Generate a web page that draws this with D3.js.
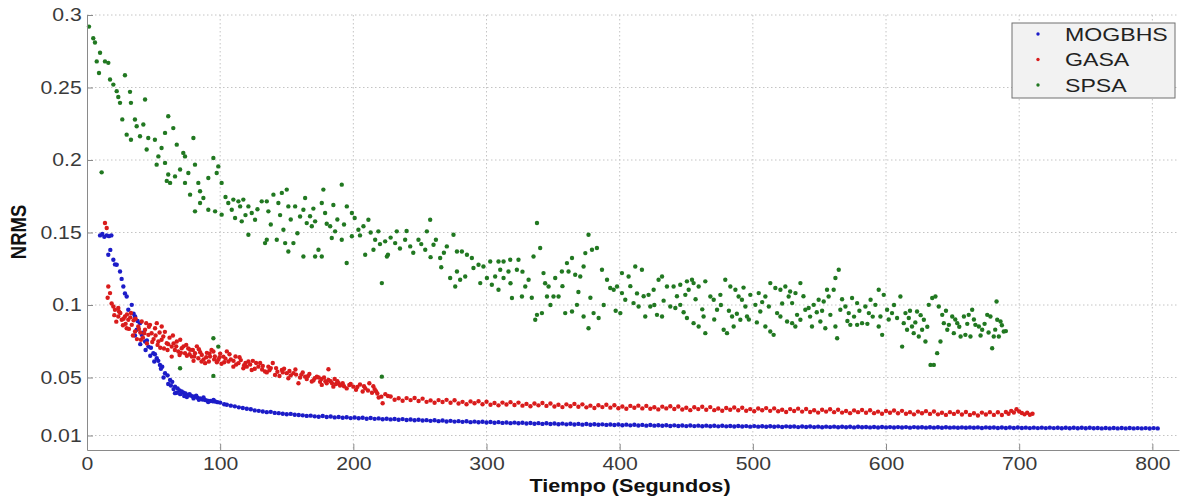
<!DOCTYPE html>
<html>
<head>
<meta charset="utf-8">
<script src="https://cdn.jsdelivr.net/npm/d3@7/dist/d3.min.js"></script>
<style>
  html, body { margin: 0; padding: 0; background: #fff; }
  svg { display: block; }
  text { font-family: "Liberation Sans", Arial, Helvetica, sans-serif; }
</style>
</head>
<body>
<svg id="chart" width="1182" height="498"></svg>
<script>
// Axis ticks
const timeTicks = [0, 100, 200, 300, 400, 500, 600, 700, 800];
const nrmsTicks = [0.01, 0.05, 0.1, 0.15, 0.2, 0.25, 0.3];
const nrmsTickLabels = ["0.01", "0.05", "0.1", "0.15", "0.2", "0.25", "0.3"];

const seriesNames = ["MOGBHS", "GASA", "SPSA"];
const seriesColors = ["#1c1cc8", "#d91c1c", "#217821"];

// MOGBHS: [tiempo (s), NRMS]
const mogbhs = [
  [9.8,.148],[11.5,.149],[13,.147],[14.8,.148],[16.5,.1475],[18.3,.148],[16,.1347],[17.5,.138],[19.8,.1312],[21,.128],
  [22.3,.1278],[24.8,.1231],[26,.118],[27.3,.1128],[28.5,.108],[29.8,.1059],[31,.0967],[33.6,.1001],[35,.094],[36.1,.0921],
  [38,.089],[39.8,.0875],[37.3,.0829],[41.1,.0794],[42.5,.081],[43.6,.0748],[45,.0755],[46.1,.0713],[48,.0705],[49.8,.0668],
  [51,.066],[52.4,.0633],[53.5,.0615],[54.8,.0587],[56.5,.0575],[58.6,.053],[60.5,.0515],[62.4,.0483],[64,.047],[66.1,.0437],
  [66.1,.0392],[68,.0425],[69.5,.041],[71.1,.0403],[72.5,.0395],[74,.039],[76.1,.038],[78,.0375],[79.5,.037],[81.1,.0368],
  [83,.036],[85,.0355],[86.7,.0348],[88.7,.0345],[90.5,.034],[92.5,.0338],[94.5,.0336],[96.2,.0334],[98,.033],
  [36,.079],[40,.073],[44,.069],[47.5,.065],[50.5,.061],[55.5,.056],[57.5,.05],[61,.0455],[63,.0445],[65,.042],
  [67.5,.0395],[70,.0385],[73,.0372],[75,.0365],[77,.0385],[80,.0356],[82,.0374],[84,.0346],[87.5,.0362],[91,.0331],[95,.0346],
  [100,.0327],[103,.0316],[105,.0312],[108,.0306],[111,.0301],[114,.0294],[117,.029],[120,.0284],[123,.0281],[126,.0273],
  [129,.027],[132,.0266],[135,.0261],[138,.0263],[141,.0256],[144,.0254],[147,.025],[150,.0247],[153,.0249],[156,.0243],
  [159,.0241],[162,.0239],[165,.0235],[168,.0237],[171,.0232],[174,.0229],[177,.0234],[180,.0228],[183,.0231],[186,.0225],
  [189,.0228],[192,.0222],[195,.0226],[198,.022],[201,.0224],[204,.0219],[207,.0222],[210,.0216],[213,.0221],[216,.0215],
  [219,.0218],[222,.0212],[225,.0216],[228,.0211],[231,.0214],[234,.0209],[237,.0213],[240,.0207],[243,.021],[246,.0205],
  [249,.0209],[252,.0203],[255,.0206],[258,.0201],[261,.0205],[264,.0199],[267,.0203],[270,.0197],[273,.0201],[276,.0196],
  [279,.0199],[282,.0194],[285,.0198],[288,.0192],[291,.0196],[294,.0191],[297,.0195],[300,.019],[303,.0193],[306,.0188],
  [309,.0192],[312,.0187],[315,.019],[318,.0185],[321,.0189],[324,.0184],[327,.0188],[330,.0183],[333,.0186],[336,.0181],
  [339,.0185],[342,.018],[345,.0184],[348,.0179],[351,.0183],[354,.0178],[357,.0182],[360,.0177],[363,.0181],[366,.0176],
  [369,.018],[372,.0175],[375,.0179],[378,.0174],[381,.0178],[384,.0174],[387,.0177],[390,.0173],[393,.0176],[396,.0172],
  [399,.0176],[402,.0171],[405,.0175],[408,.017],[411,.0174],[414,.0169],[417,.0173],[420,.0168],[423,.0172],[426,.0168],
  [429,.0171],[432,.0167],[435,.0171],[438,.0166],[441,.017],[444,.0166],[447,.0169],[450,.0165],[453,.0169],[456,.0165],
  [459,.0168],[462,.0164],[465,.0168],[468,.0164],[471,.0167],[474,.0163],[477,.0167],[480,.0163],[483,.0166],[486,.0162],
  [489,.0166],[492,.0162],[495,.0165],[498,.0161],[501,.0165],[504,.0161],[507,.0164],[510,.016],[513,.0164],[516,.016],
  [519,.0163],[522,.0159],[525,.0163],[528,.016],[531,.0162],[534,.0158],[537,.0162],[540,.0159],[543,.0162],[546,.0158],
  [549,.0161],[552,.0157],[555,.0161],[558,.0158],[561,.0161],[564,.0157],[567,.016],[570,.0157],[573,.016],[576,.0156],
  [579,.016],[582,.0157],[585,.0159],[588,.0156],[591,.0159],[594,.0155],[597,.0159],[600,.0156],[603,.0158],[606,.0155],
  [609,.0158],[612,.0155],[615,.0158],[618,.0154],[621,.0158],[624,.0155],[627,.0157],[630,.0154],[633,.0157],[636,.0154],
  [639,.0157],[642,.0153],[645,.0157],[648,.0154],[651,.0156],[654,.0153],[657,.0156],[660,.0153],[663,.0156],[666,.0153],
  [669,.0156],[672,.0152],[675,.0156],[678,.0153],[681,.0155],[684,.0152],[687,.0155],[690,.0152],[693,.0155],[696,.0152],
  [699,.0155],[702,.0152],[705,.0154],[708,.0151],[711,.0154],[714,.0151],[717,.0154],[720,.0151],[723,.0154],[726,.0151],
  [729,.0153],[732,.015],[735,.0153],[738,.015],[741,.0153],[744,.015],[747,.0153],[750,.015],[753,.0153],[756,.015],
  [759,.0152],[762,.0149],[765,.0152],[768,.0149],[771,.0152],[774,.0149],[777,.0152],[780,.0149],[783,.0152],[786,.0149],
  [789,.0151],[792,.0149],[795,.0151],[798,.0148],[801,.0151],[804,.0149]
];

// GASA: [tiempo (s), NRMS]
const gasa = [
  [13.5,.1566],[14.8,.1531],[16,.1128],[17.3,.1082],[19.8,.099],[21,.0967],[23.5,.0979],[23.5,.0921],[26.1,.0898],[28.5,.0921],
  [31,.0898],[29.8,.084],[33.6,.0863],[36.1,.0817],[38.5,.0852],[41.1,.0886],[43.6,.0829],[46.1,.0794],[47.3,.0863],[51.1,.084],
  [52.4,.0875],[56.1,.0852],[57.3,.0783],[53.6,.0748],[59.9,.0737],[63.6,.0713],[67.4,.0748],[68.6,.0679],[63.6,.0644],[71.1,.0702],
  [73.6,.0668],[77.4,.0691],[78.7,.0644],[81.1,.0668],[83.6,.0633],[86.2,.0656],[88.7,.0599],[92.4,.0644],[94.9,.0679],[98.6,.0622],
  [102.4,.0644],[106.2,.061],[109.9,.0575],[113.7,.0599],[117.4,.0564],[121.2,.061],[123.7,.0552],[128.7,.0575],[133.7,.0541],[136.2,.0575],
  [141.2,.0518],[146.3,.0552],[151.2,.0495],[155,.053],[158.8,.046],[163.8,.0506],[168.8,.0472],[172.6,.0506],[176.3,.0449],[181.3,.0483],
  [185,.0437],[181.3,.0557],
  [15.5,.105],[18.5,.101],[20.5,.093],[22,.0885],[25,.0945],[27,.086],[30,.0935],[32.5,.0915],[34.5,.079],[35,.0895],
  [37.5,.0765],[40,.081],[42,.0775],[44.5,.0875],[45,.0735],[48.5,.0805],[50,.0765],[54.5,.081],[55,.0705],[58.5,.0815],
  [60.5,.069],[62,.0775],[65,.0735],[66,.069],[69.5,.0655],[70,.076],[72.5,.0715],[75,.065],[76,.07],[79.5,.069],
  [80,.0615],[82.5,.0715],[85,.0675],[87.5,.0625],[90,.067],[91.5,.061],[93.5,.069],[96,.0645],[97.5,.0605],[100,.0665],
  [101,.0595],[104,.063],[105,.068],[108,.0625],[111.5,.0645],[112,.059],[115.5,.062],[119,.06],[120,.0575],[124.5,.0615],
  [126,.056],[130,.06],[131.5,.0555],[135,.0535],[138,.0565],[139.5,.06],[143,.054],[144.5,.051],[148,.056],[150,.053],
  [153,.0515],[156.5,.0555],[160,.05],[162,.0535],[165,.049],[167,.0525],[170,.048],[174,.05],[175,.047],[178,.05],
  [180,.046],[183,.0475],[187,.0455],[188,.0475],
  [24,.0955],[27.5,.0905],[29,.087],[31.5,.0835],[33,.0945],[36.5,.0905],[39,.0835],[40.5,.076],[43,.0805],[46.5,.085],
  [49,.0745],[51.5,.079],[53,.0725],[56,.076],[57.8,.07],[61,.073],[64.5,.079],[67,.0715],[70.5,.067],[74.5,.0725],
  [77,.066],[80.5,.0645],[84,.0695],[86,.061],[89.5,.064],[92,.0665],[95.5,.0625],[99.5,.064],[103,.0605],[107,.066],
  [110,.0615],[114.5,.064],[118,.0585],[122.5,.059],[127,.06],[132,.058],[137,.055],[142,.0565],[147,.0535],[152,.0545],
  [157,.052],[161,.052],[166,.051],[171,.0495],[176,.049],[179,.0475],[184,.046],[186,.049],[189,.046],[193,.044],
  [198,.0455],[203,.0435],[208,.044],[211,.041],[215,.044],[217,.0405],
  [190,.0445],[192,.046],[195,.0425],[197,.0448],[200,.0437],[202,.0415],[205,.0452],[207,.0403],[209,.0425],[212,.046],
  [214,.0395],[216,.042],[218,.039],[219,.0362],[221,.0368],[222,.0322],[224,.0385],[226,.0372],
  [228,.0369],[231,.0347],[234,.0357],[237,.034],[240,.0358],[243,.0344],[246,.0359],[249,.0338],[252,.0354],[255,.0332],
  [258,.0342],[261,.0326],[264,.0344],[267,.0331],[270,.0346],[273,.0326],[276,.0343],[279,.0321],[282,.0332],[285,.0316],
  [288,.0335],[291,.0322],[294,.0336],[297,.0316],[300,.0333],[303,.0312],[306,.0324],[309,.0308],[312,.0327],[315,.0314],
  [318,.033],[321,.031],[324,.0327],[327,.0306],[330,.0318],[333,.0302],[336,.0321],[339,.0308],[342,.0324],[345,.0304],
  [348,.0321],[351,.03],[354,.0312],[357,.0296],[360,.0315],[363,.0302],[366,.0318],[369,.0298],[372,.0315],[375,.0294],
  [378,.0306],[381,.029],[384,.0309],[387,.0296],[390,.0312],[393,.0292],[396,.0309],[399,.0288],[402,.03],[405,.0284],
  [408,.0304],[411,.0291],[414,.0306],[417,.0287],[420,.0304],[423,.0284],[426,.0295],[429,.028],[432,.0299],[435,.0287],
  [438,.0302],[441,.0283],[444,.03],[447,.0279],[450,.0291],[453,.0275],[456,.0295],[459,.0282],[462,.0298],[465,.0278],
  [468,.0296],[471,.0275],[474,.0286],[477,.0271],[480,.029],[483,.0278],[486,.0293],[489,.0274],[492,.0291],[495,.0271],
  [498,.0282],[501,.0267],[504,.0286],[507,.0274],[510,.0289],[513,.027],[516,.0287],[519,.0267],[522,.0278],[525,.0262],
  [528,.0282],[531,.0269],[534,.0285],[537,.0265],[540,.0283],[543,.0262],[546,.0274],[549,.0258],[552,.0278],[555,.0265],
  [558,.0281],[561,.0261],[564,.0278],[567,.0258],[570,.0269],[573,.0254],[576,.0273],[579,.0261],[582,.0276],[585,.0257],
  [588,.0274],[591,.0254],[594,.0265],[597,.025],[600,.0269],[603,.0257],[606,.0272],[609,.0253],[612,.027],[615,.025],
  [618,.0261],[621,.0246],[624,.0265],[627,.0253],[630,.0268],[633,.0249],[636,.0266],[639,.0246],[642,.0257],[645,.0242],
  [648,.0261],[651,.0249],[654,.0264],[657,.0245],[660,.0262],[663,.0242],[666,.0253],[669,.0238],[672,.0258],[675,.0245],
  [678,.0261],[681,.0242],[684,.026],[687,.0241],[690,.0262],[692,.025],[694,.027],[696,.0259],[698,.0281],[700,.0266],
  [702,.0255],[704,.0246],[706,.0257],[708,.0243],[710,.025]
];

// SPSA: [tiempo (s), NRMS]
const spsa = [
  [1.5,.292],[4.7,.284],[6,.281],[9.8,.274],[7.3,.268],[13.5,.268],[16,.267],[9,.26],[11,.1915],[28.5,.2585],
  [17.3,.2555],[19.8,.252],[22.3,.2475],[32.3,.247],[23.5,.2435],[24.8,.2394],[33,.2394],[43.6,.2417],[26.5,.228],[36,.2279],
  [61,.2302],[37.3,.2233],[42.3,.2245],[64.8,.222],[29.8,.2175],[33,.214],[39.8,.2164],[46,.2152],[51,.214],[58.6,.2187],
  [79.9,.2152],[44.8,.2072],[56,.2083],[67.4,.2106],[72.3,.2049],[94.9,.2014],[53.6,.2025],[52.3,.1968],[58.6,.198],[73.6,.2025],
  [81.1,.1968],[98.6,.1956],[69.9,.1934],[61,.19],[66.1,.1887],[76.1,.191],[59.9,.1856],[62.4,.1842],[73.6,.1842],[83.6,.1842],
  [91.1,.1876],[97.4,.191],[101.1,.1842],[84.9,.1785],[77.4,.1761],[87.4,.1738],[84.9,.1703],[81.1,.1646],[91.1,.1657],[96.2,.1646],
  [101.1,.1623],[106.1,.1703],[109.9,.1727],[113.7,.1715],[117.4,.1727],[108.7,.1657],[115,.168],[121.2,.168],[111.2,.16],[116.2,.1577],
  [123.7,.1634],[126.2,.1588],[121.2,.1485],[131.2,.1715],[135,.1715],[140,.1761],[146.3,.1773],[150,.1796],[143.7,.1703],[136.2,.1646],
  [151.2,.168],[156.3,.168],[162.5,.1657],[163.8,.1738],[177.5,.1796],[176.3,.1703],[191.3,.183],[195.1,.168],[198.9,.1634],[167.5,.1612],
  [171.3,.1577],[168.8,.1543],[178.8,.1634],[182.6,.1543],[186.3,.1508],[183.8,.1462],[191.3,.145],[203.8,.1519],[211.3,.1588],[207.6,.1543],
  [198.9,.1474],[216.4,.145],[218.8,.1508],[232.6,.1508],[223.9,.1439],[231.4,.1427],[238.9,.145],[242.7,.1404],[248.9,.145],[257.7,.1588],
  [255.2,.1508],[260.2,.1416],[254,.1381],[147.5,.1519],[142.5,.145],[148.8,.1427],[155,.1427],[135,.145],[133.7,.1427],[162.5,.1335],
  [173.8,.1381],[176.3,.1335],[208.9,.1347],[225.2,.1335],[215.1,.1381],[151.2,.1369],[171.3,.1335],[195,.129],[221.4,.1151],[226,.1347],
  [94.9,.0771],[98.6,.0713],[94.9,.0511],[69.9,.0564],[221.4,.0506],
  [104,.1745],[119,.162],[128,.166],[138,.1555],[145,.162],[153,.159],[158,.1495],[160,.161],[165,.1565],[170,.1665],
  [180,.156],[185,.169],[188,.159],[193,.1555],[201,.16],[205,.148],[213,.15],[220,.142],[228,.1465],[235,.139],
  [240,.151],[245,.136],[251,.142],[258,.133],[262,.145],[266,.126],[268,.136],
  [265.2,.1324],[270.2,.1404],[275.2,.1485],[277.8,.1369],[281.5,.1369],[285.3,.1347],[289,.1324],[272.7,.1186],[276.5,.1128],[280.2,.1174],
  [284,.1197],[277.8,.1231],[290.2,.1255],[294,.1278],[297.7,.1266],[302.8,.13],[309,.13],[312.8,.13],[317.8,.1312],[324,.1312],
  [322.8,.1243],[310.3,.1243],[316.5,.1231],[300.3,.1186],[306.5,.1197],[312.8,.1186],[295.3,.1151],[304,.114],[309,.1105],[319.1,.1048],
  [326.6,.1059],[331.6,.1174],[329.1,.1128],[337.9,.1566],[340.3,.1393],[335.3,.1335],[342.8,.122],[337.9,.0932],[336.6,.0898],[341.6,.0944],
  [345.4,.1059],[346.6,.1128],[351.6,.1186],[350.3,.1059],[354.1,.1059],[356.6,.1231],[360.4,.1289],[364.2,.1324],[361.6,.1231],[366.6,.1209],
  [359.1,.0944],[364.2,.0955],[367.9,.1001],[370.4,.1197],[372.9,.1266],[374.2,.1358],[376.6,.1485],[379.2,.1381],[382.9,.1393],[372.9,.0921],
  [376.6,.084],[380.4,.0944],[384.2,.091],[386.7,.1243],[390.5,.1174],[392.9,.1117],[395.5,.1105],[398,.1128],[401.7,.122],[401.7,.1082],
  [404.2,.1036],[400.5,.0944],[406.7,.1197],[411.7,.1266],[416.7,.1243],[410.4,.1013],[414.2,.099],[419.2,.0921],[423,.099],[421.7,.107],
  [425.5,.1105],[429.2,.1174],[431.8,.1197],[428,.0932],[431.8,.0921],[435.5,.1128],[440.5,.1128],[445.5,.114],[450.5,.1163],[454.3,.1174],
  [438,.099],[441.8,.0979],[445.5,.1001],[449.3,.107],[451.8,.1105],[455.5,.1151],[459.3,.1128],[464.3,.1163],[450.5,.091],[455.5,.0875],
  [459.3,.0852],[464.3,.0806],[463,.0921],[468.1,.1059],[470.6,.1036],[473.1,.0967],[475.6,.107],[479.3,.1174],[483.1,.1128],[486.9,.1105],
  [478.1,.0829],[480.6,.0806],[484.4,.0921],[489.3,.1059],[491.8,.1036],[494.4,.099],[498.1,.107],[501.9,.1001],[505.6,.0955],[504.4,.1082],
  [509.4,.1059],[513.1,.1151],[516.9,.1117],[520.7,.1105],[524.4,.1128],[526.9,.1059],[529.5,.1013],[532,.1082],[509.4,.0852],[513.1,.0817],
  [515.6,.0794],[518.2,.0944],[520.7,.0921],[525.7,.0886],[529.5,.0875],[533.2,.0932],[485.6,.0852],[490.6,.0898],[495.6,.0921],[528,.1093],
  [318,.115],[327,.123],[334,.105],[344,.115],[348,.1],[357,.113],[369,.109],[378,.105],[388,.1],[397,.096],
  [408,.113],[413,.108],[418,.106],[426,.1],[433,.103],[443,.106],[448,.095],[457,.104],[462,.097],[471,.09],
  [476,.1],[482,.096],[488,.094],[493,.112],[497,.09],[503,.088],[507,.102],[512,.099],
  [535.7,.1151],[531.9,.0852],[535.7,.0898],[539.4,.0967],[541.9,.0979],[545.7,.1001],[549.4,.1036],[553.2,.1024],[544.4,.0852],[550.7,.0886],
  [554.4,.084],[555.7,.1105],[556.9,.1059],[558.2,.0932],[560.7,.1105],[562,.1186],[564.5,.1243],[563.3,.0771],[562,.0852],[565.7,.0967],
  [569.5,.099],[572,.0944],[574.5,.1048],[578.3,.1013],[573.2,.0863],[578.3,.0863],[582,.0875],[584.5,.099],[587.1,.0944],[588.4,.1036],
  [592,.1001],[594.5,.1105],[595.8,.0921],[594.5,.0852],[597.1,.0794],[598.3,.107],[600.8,.0967],[604.5,.0944],[608.3,.091],[610.8,.1059],
  [614.6,.0944],[612.1,.0713],[613.3,.0875],[617.1,.091],[615.8,.0829],[619.5,.0852],[620.8,.0806],[623.3,.0955],[624.6,.0783],[627.1,.0829],
  [628.4,.0898],[629.6,.0748],[632.1,.1001],[634.7,.1048],[637.1,.1059],[633.4,.0587],[635.9,.0587],[638.4,.0668],[639.6,.099],[640.9,.0748],
  [642.2,.0932],[643.4,.0875],[646,.0829],[647.2,.0863],[649.7,.0921],[650.9,.0806],[653.5,.0875],[656,.0783],[658.5,.0921],[659.6,.0794],
  [662.1,.0932],[664.7,.0967],[663.4,.0783],[667.1,.0863],[669.7,.0852],[672.2,.0829],[676,.0932],[678.4,.0921],[679.7,.0702],[680.9,.0783],
  [683,.1024],[683.5,.0898],[686,.0886],[688.4,.0817],[684.7,.0783],
  [522,.101],[538,.106],[543,.092],[548,.095],[552,.096],[567,.104],[571,.089],[576,.092],[580,.096],[586,.087],
  [590,.092],[602,.09],[606,.1],[618,.096],[622,.088],[626,.093],[631,.085],[645,.096],[652,.09],[655,.085],
  [661,.087],[666,.09],[671,.079],[674,.087],[677,.081],[682,.083],[687,.086],[690,.082]
];

const seriesData = [mogbhs, gasa, spsa];

const svg = d3.select("#chart");
const plot = { left: 87, right: 1179, top: 15, bottom: 450 };

const x = d3.scaleLinear().domain([0, 820]).range([plot.left, plot.right]);
const y = d3.scaleLinear().domain([0, 0.3]).range([plot.bottom, plot.top]);

const axisGray = "#8a8a8a";
const gridGray = "#c4c4c4";
const labelColor = "#3a3a3a";

// Dotted grid
const grid = svg.append("g");
grid.selectAll("line.gx").data(timeTicks.filter(d => d > 0)).join("line")
  .attr("x1", d => x(d)).attr("x2", d => x(d))
  .attr("y1", plot.top).attr("y2", plot.bottom)
  .attr("stroke", gridGray).attr("stroke-width", 1).attr("stroke-dasharray", "1.5,2.5");
grid.selectAll("line.gy").data(nrmsTicks).join("line")
  .attr("x1", plot.left).attr("x2", plot.right)
  .attr("y1", d => y(d)).attr("y2", d => y(d))
  .attr("stroke", gridGray).attr("stroke-width", 1).attr("stroke-dasharray", "1.5,2.5");

// Scatter points, one group per algorithm
seriesData.forEach((data, i) => {
  svg.append("g")
    .selectAll("circle").data(data).join("circle")
    .attr("cx", d => x(d[0]))
    .attr("cy", d => y(d[1]))
    .attr("r", 2.2)
    .attr("fill", seriesColors[i]);
});

// Axes (ticks pointing inward)
const xAxis = svg.append("g")
  .attr("transform", `translate(0,${plot.bottom})`)
  .call(d3.axisBottom(x).tickValues(timeTicks).tickFormat(d3.format("d")).tickSize(-6).tickSizeOuter(0));
xAxis.select(".domain").attr("stroke", axisGray);
xAxis.selectAll(".tick line").attr("stroke", axisGray);
xAxis.selectAll(".tick text")
  .attr("y", 20.5).attr("dy", null)
  .attr("transform", "scale(1.18,1)")
  .attr("fill", labelColor)
  .style("font-size", "18px");

const yAxis = svg.append("g")
  .attr("transform", `translate(${plot.left},0)`)
  .call(d3.axisLeft(y).tickValues(nrmsTicks).tickFormat((d, i) => nrmsTickLabels[i]).tickSize(-6).tickSizeOuter(0).tickPadding(4.5));
yAxis.select(".domain").attr("stroke", axisGray);
yAxis.selectAll(".tick line").attr("stroke", axisGray);
yAxis.selectAll(".tick text")
  .attr("transform", "scale(1.18,1)")
  .attr("fill", labelColor)
  .style("font-size", "18px");

// Axis titles
svg.append("text")
  .attr("transform", "translate(630,492) scale(1.2,1)")
  .attr("text-anchor", "middle")
  .style("font-size", "18px").style("font-weight", "bold")
  .attr("fill", "#111")
  .text("Tiempo (Segundos)");

svg.append("text")
  .attr("transform", "translate(18.5,232) scale(1.2,1) rotate(-90)")
  .attr("text-anchor", "middle")
  .attr("dy", "0.36em")
  .style("font-size", "18.5px").style("font-weight", "bold")
  .attr("fill", "#111")
  .text("NRMS");

// Legend
const legend = svg.append("g");
legend.append("rect")
  .attr("x", 1012).attr("y", 23).attr("width", 163).attr("height", 75)
  .attr("fill", "#f2f2f2").attr("stroke", "#707070").attr("stroke-width", 1);
const rowY = [34, 59.5, 85];
seriesNames.forEach((name, i) => {
  legend.append("circle")
    .attr("cx", 1038).attr("cy", rowY[i]).attr("r", 1.7)
    .attr("fill", seriesColors[i]);
  legend.append("text")
    .attr("transform", `translate(1065,${rowY[i]}) scale(1.25,1)`)
    .attr("dy", "0.36em")
    .style("font-size", "18.5px")
    .attr("fill", "#222")
    .text(name);
});
</script>
</body>
</html>
